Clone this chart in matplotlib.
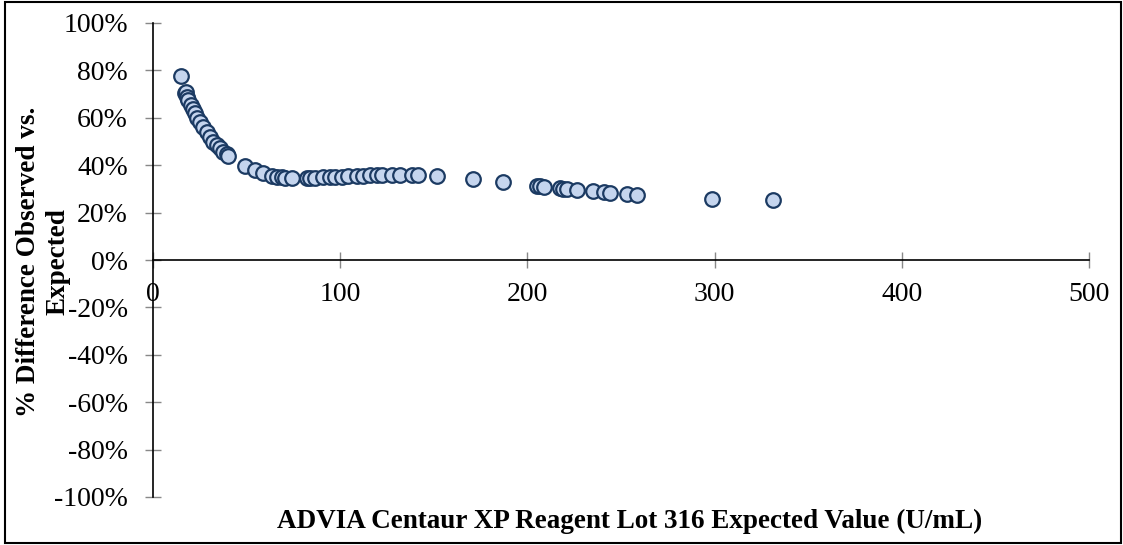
import matplotlib
matplotlib.use("Agg")
import matplotlib.pyplot as plt
from matplotlib.patches import Rectangle
from matplotlib.ticker import PercentFormatter

# Data: expected value (U/mL) vs % difference
expected = [15.0, 17.1, 17.6, 18.0, 18.9, 20.1, 21.2, 22.4, 23.7, 25.1, 26.9, 28.7,
            30.4, 32.2, 34.0, 35.8, 37.6, 39.7, 40.2,
            49.1, 54.5, 58.9, 63.4, 66.1, 68.7, 70.5, 74.1, 82.1, 83.9, 86.5, 91.0,
            94.6, 97.2, 100.8, 104.3, 108.8, 112.3, 115.9, 119.5, 122.2, 127.5,
            131.9, 138.2, 141.7, 151.5,
            171.1, 186.8, 205.0, 206.7, 209.0, 217.4, 219.2, 221.3, 226.7, 235.2,
            241.0, 244.1, 253.4, 258.4, 298.8, 331.0]
pct_diff = [77.8, 70.3, 71.0, 68.9, 67.5, 65.4, 63.6, 61.9, 59.8, 58.4, 56.2, 54.1,
            52.0, 49.9, 48.5, 47.1, 45.7, 44.7, 43.8,
            39.8, 38.0, 36.6, 35.4, 35.1, 34.9, 34.8, 34.7, 34.7, 34.7, 34.8, 35.0,
            35.1, 35.1, 35.2, 35.4, 35.6, 35.6, 35.7, 35.7, 35.7, 35.7,
            35.7, 35.7, 35.7, 35.6,
            34.0, 32.8, 31.4, 31.3, 31.0, 30.2, 30.0, 29.9, 29.4, 29.0,
            28.6, 28.3, 27.7, 27.4, 25.7, 25.3]

x_ticks = [0, 100, 200, 300, 400, 500]
y_ticks = [-100, -80, -60, -40, -20, 0, 20, 40, 60, 80, 100]
x_label = "ADVIA Centaur XP Reagent Lot 316 Expected Value (U/mL)"
y_label = "% Difference Observed vs.\nExpected"

plt.rcParams['font.family'] = ['Liberation Serif', 'DejaVu Serif']
plt.rcParams['axes.unicode_minus'] = False

fig = plt.figure(figsize=(11.23, 5.45), dpi=100)
ax = fig.add_axes([153/1123, 1 - 497/545, (1089-153)/1123, (497-23)/545])

ax.plot(expected, pct_diff, linestyle='none', marker='o', markersize=10.5,
        markerfacecolor='#c5d5ee', markeredgecolor='#1b3a62', markeredgewidth=1.6,
        zorder=3, clip_on=False)

ax.set_xlim(0, 500)
ax.set_ylim(-100, 100)
ax.set_xticks(x_ticks)
ax.set_yticks(y_ticks)
ax.yaxis.set_major_formatter(PercentFormatter(decimals=0))

for s in ['top', 'right']:
    ax.spines[s].set_visible(False)
ax.spines['bottom'].set_position(('data', 0))
ax.spines['left'].set_linewidth(1.2)
ax.spines['bottom'].set_linewidth(1.2)

ax.tick_params(axis='both', direction='inout', length=12, width=1,
               color='#888888', labelsize=20)
ax.tick_params(axis='y', pad=12)
ax.tick_params(axis='x', pad=10)

fig.text((277 + 982) / 2 / 1123, 1 - 521/545, x_label, fontsize=19.5,
         fontweight='bold', ha='center', va='center')

fig.text(43/1123, 1 - 262/545, y_label, fontsize=19.5, fontweight='bold',
         rotation=90, ha='center', va='center', multialignment='center',
         linespacing=1.25)

fig.patches.append(Rectangle((5/1123, 2/545), (1121-5)/1123, (543-2)/545,
                             transform=fig.transFigure, fill=False,
                             edgecolor='black', linewidth=1.5))

fig.savefig('out.png', dpi=100)
